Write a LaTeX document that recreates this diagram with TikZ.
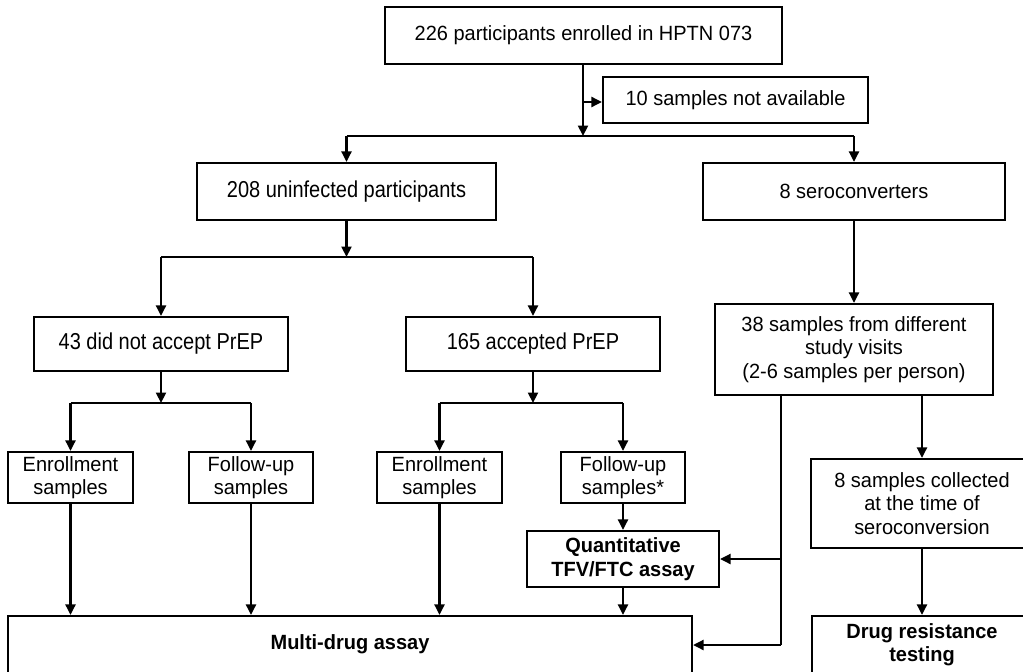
\documentclass[tikz,border=0pt]{standalone}
\usepackage{fontspec}
\setmainfont[FakeStretch=0.97]{Liberation Sans}
\newfontfamily\narrowf[FakeStretch=0.87]{Liberation Sans}
\usetikzlibrary{arrows.meta}
\tikzset{
  box/.style={draw, line width=2.2pt, inner sep=0pt, align=center,
    font=\fontsize{20.6}{23.5}\selectfont},
  nbox/.style={box, font=\fontsize{23}{26}\selectfont\narrowf},
  bbox/.style={box, font=\fontsize{20.6}{23.5}\selectfont\bfseries},
  conn/.style={line width=2.2pt},
  arr/.style={line width=2.2pt, -{Triangle[length=10.5pt,width=10pt]}},
}
\begin{document}
\begin{tikzpicture}[x=1pt,y=-1pt]
\useasboundingbox[fill=white] (0,0) rectangle (1023,672);
% nodes
\node[box, minimum width=397pt, minimum height=57pt] (top) at (583.5,35.5) {226 participants enrolled in HPTN 073};
\node[box, minimum width=265pt, minimum height=46pt] (na) at (735.5,100) {10 samples not available};
\node[nbox, minimum width=299pt, minimum height=57pt] (uninf) at (346.5,191.5) {208 uninfected participants};
\node[box, minimum width=302pt, minimum height=57pt] (sero) at (854,191.5) {8 seroconverters};
\node[nbox, minimum width=254pt, minimum height=54pt] (noprep) at (161,344) {43 did not accept PrEP};
\node[nbox, minimum width=254pt, minimum height=54pt] (prep) at (533,344) {165 accepted PrEP};
\node[box, minimum width=278pt, minimum height=91pt] (s38) at (854,349.5) {38 samples from different\\study visits\\(2-6 samples per person)};
\node[box, minimum width=125pt, minimum height=51pt] (en1) at (70.5,477.5) {Enrollment\\samples};
\node[box, minimum width=124pt, minimum height=51pt] (fu1) at (251,477.5) {Follow-up\\samples};
\node[box, minimum width=125pt, minimum height=51pt] (en2) at (439.5,477.5) {Enrollment\\samples};
\node[box, minimum width=124pt, minimum height=51pt] (fu2) at (623,477.5) {Follow-up\\samples*};
\node[bbox, minimum width=192pt, minimum height=56pt] (quant) at (623,559) {Quantitative\\TFV/FTC assay};
\node[bbox, minimum width=684pt, minimum height=57pt] (multi) at (350,644.5) {Multi-drug assay};
\node[box, minimum width=222pt, minimum height=89pt] (s8) at (922,503.5) {8 samples collected\\at the time of\\seroconversion};
\node[bbox, minimum width=220pt, minimum height=57pt] (drug) at (922,644.5) {Drug resistance\\testing};
% junction coordinates
\coordinate (j1) at (583,136);
\coordinate (j2) at (346.5,257);
\coordinate (j3) at (161,403);
\coordinate (j4) at (533,403);
\coordinate (b1) at (781,395);
\coordinate (b2) at (781,645);
\coordinate (nj) at (583,102);
% connectors
\draw[arr] (top.south -| j1) -- (j1);
\draw[arr] (nj) -- (nj -| na.west);
\draw[conn] (j1 -| uninf.north) -- (j1 -| sero.north);
\draw[arr] (j1 -| uninf.north) -- (uninf.north);
\draw[arr] (j1 -| sero.north) -- (sero.north);
\draw[arr] (uninf.south) -- (j2);
\draw[conn] (j2 -| noprep.north) -- (j2 -| prep.north);
\draw[arr] (j2 -| noprep.north) -- (noprep.north);
\draw[arr] (j2 -| prep.north) -- (prep.north);
\draw[arr] (sero.south) -- (s38.north);
\draw[arr] (noprep.south) -- (j3);
\draw[conn] (j3 -| en1.north) -- (j3 -| fu1.north);
\draw[arr] (j3 -| en1.north) -- (en1.north);
\draw[arr] (j3 -| fu1.north) -- (fu1.north);
\draw[arr] (prep.south) -- (j4);
\draw[conn] (j4 -| en2.north) -- (j4 -| fu2.north);
\draw[arr] (j4 -| en2.north) -- (en2.north);
\draw[arr] (j4 -| fu2.north) -- (fu2.north);
\draw[arr] (fu2.south) -- (quant.north);
\draw[arr] (quant.south) -- (quant.south |- multi.north);
\draw[arr] (en1.south) -- (en1.south |- multi.north);
\draw[arr] (fu1.south) -- (fu1.south |- multi.north);
\draw[arr] (en2.south) -- (en2.south |- multi.north);
\draw[conn] (b1) -- (b2);
\draw[arr] (b2) -- (b2 -| multi.east);
\draw[arr] (b1 |- quant.east) -- (quant.east);
\draw[arr] (s38.south -| s8.north) -- (s8.north);
\draw[arr] (s8.south) -- (drug.north);
\end{tikzpicture}
\end{document}
